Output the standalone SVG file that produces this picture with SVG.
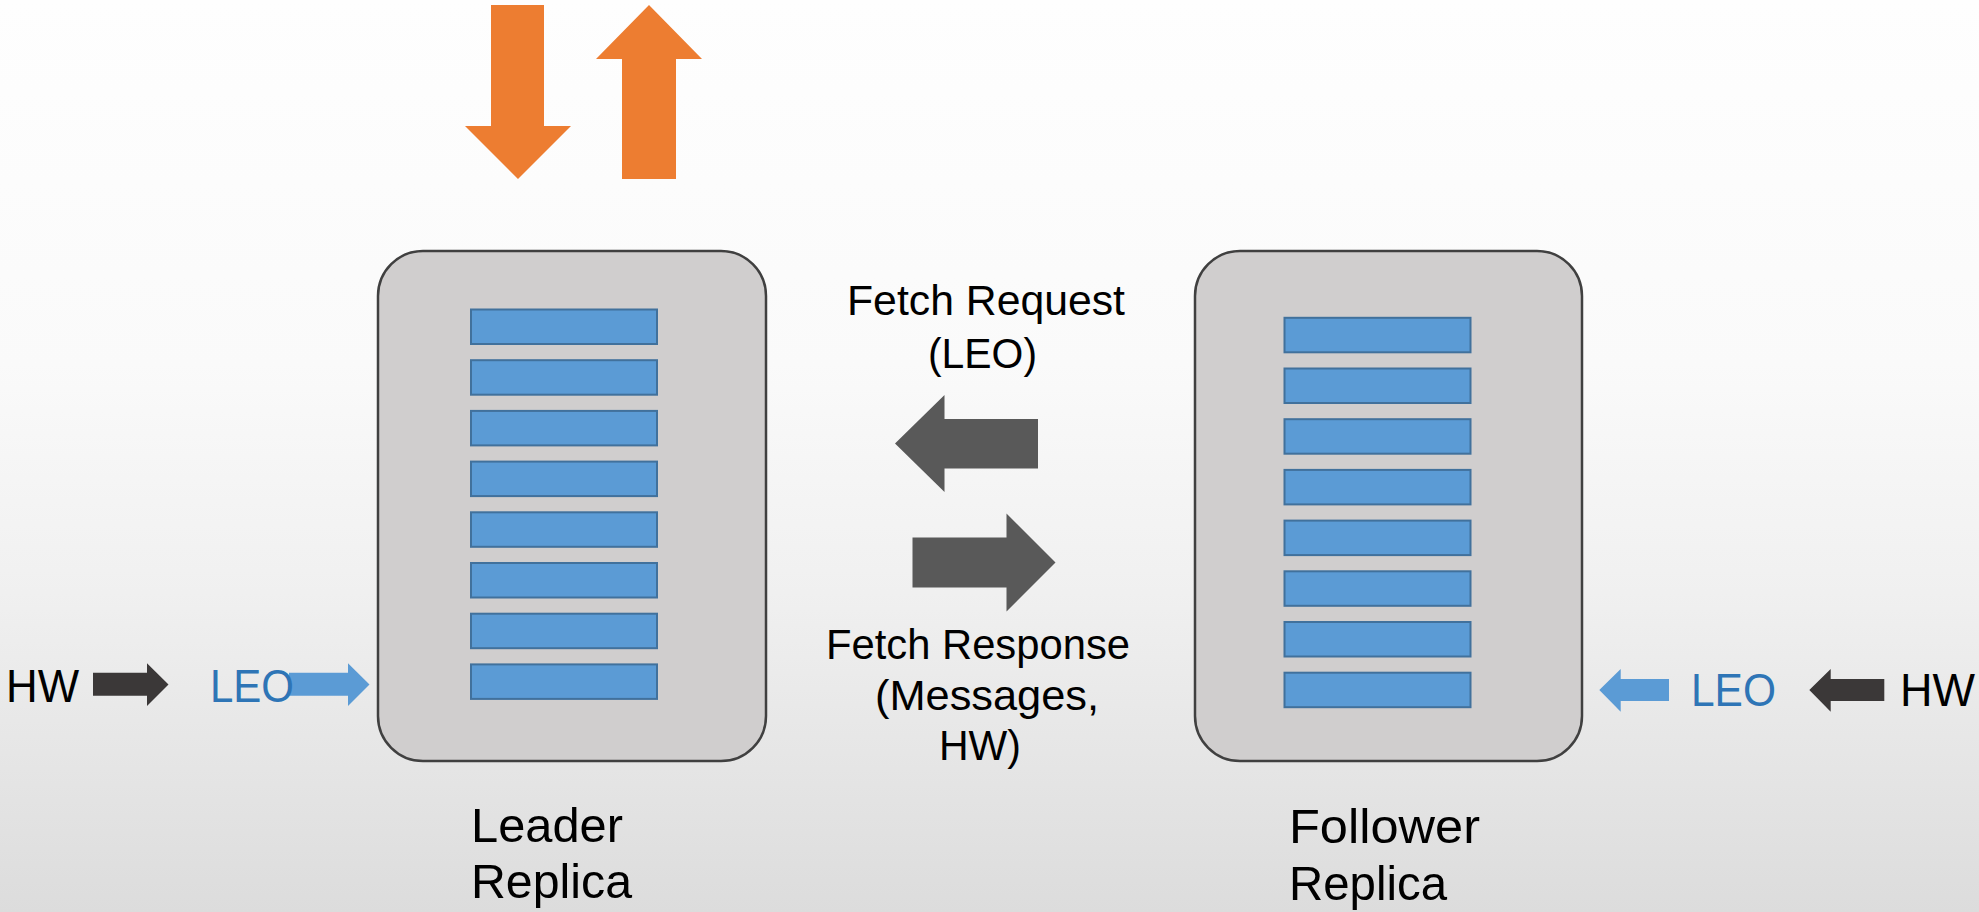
<svg xmlns="http://www.w3.org/2000/svg" width="1979" height="912" viewBox="0 0 1979 912">
  <defs>
    <linearGradient id="bg" x1="0" y1="0" x2="0" y2="1">
      <stop offset="0" stop-color="#FEFEFE"/>
      <stop offset="0.4" stop-color="#FAFAFA"/>
      <stop offset="0.65" stop-color="#F0F0F0"/>
      <stop offset="1" stop-color="#DCDCDC"/>
    </linearGradient>
    <style>
      .box { fill: #D0CECE; stroke: #404040; stroke-width: 2.5; }
      .bar { fill: #5B9BD5; stroke: #41719C; stroke-width: 2; }
      .orange { fill: #ED7D31; }
      .fetch { fill: #595959; }
      .hw { fill: #3B3838; }
      .leo { fill: #5B9BD5; }
      text { font-family: "Liberation Sans", Arial, sans-serif; fill: #000; }
      .msg { font-size: 42px; }
      .mark { font-size: 47px; }
      .name { font-size: 49px; }
      .blue { fill: #2E75B6; }
    </style>
  </defs>

  <rect x="0" y="0" width="1979" height="912" fill="url(#bg)"/>

  <!-- leader replica with its log segments -->
  <g id="leader">
    <rect class="box" x="378" y="251" width="388" height="510" rx="45" ry="45"/>
    <rect class="bar" x="471" y="309.5" width="186" height="34.5"/>
    <rect class="bar" x="471" y="360.2" width="186" height="34.5"/>
    <rect class="bar" x="471" y="410.9" width="186" height="34.5"/>
    <rect class="bar" x="471" y="461.6" width="186" height="34.5"/>
    <rect class="bar" x="471" y="512.3" width="186" height="34.5"/>
    <rect class="bar" x="471" y="563.0" width="186" height="34.5"/>
    <rect class="bar" x="471" y="613.7" width="186" height="34.5"/>
    <rect class="bar" x="471" y="664.4" width="186" height="34.5"/>
    <text class="name"><tspan x="471" y="842" textLength="152" lengthAdjust="spacingAndGlyphs">Leader</tspan><tspan x="471" y="898" textLength="161" lengthAdjust="spacingAndGlyphs">Replica</tspan></text>
  </g>

  <!-- follower replica with its log segments -->
  <g id="follower">
    <rect class="box" x="1195" y="251" width="387" height="510" rx="45" ry="45"/>
    <rect class="bar" x="1284.5" y="317.8" width="186" height="34.5"/>
    <rect class="bar" x="1284.5" y="368.5" width="186" height="34.5"/>
    <rect class="bar" x="1284.5" y="419.2" width="186" height="34.5"/>
    <rect class="bar" x="1284.5" y="469.9" width="186" height="34.5"/>
    <rect class="bar" x="1284.5" y="520.6" width="186" height="34.5"/>
    <rect class="bar" x="1284.5" y="571.3" width="186" height="34.5"/>
    <rect class="bar" x="1284.5" y="622.0" width="186" height="34.5"/>
    <rect class="bar" x="1284.5" y="672.7" width="186" height="34.5"/>
    <text class="name"><tspan x="1289" y="843" textLength="191" lengthAdjust="spacingAndGlyphs">Follower</tspan><tspan x="1289" y="900" textLength="158" lengthAdjust="spacingAndGlyphs">Replica</tspan></text>
  </g>

  <!-- block arrows -->
  <g id="connectors">
    <!-- produce / consume on the leader -->
    <polygon class="orange" points="491,5 544,5 544,126 571,126 518,179 465,126 491,126"/>
    <polygon class="orange" points="649,5 702,59 676,59 676,179 622,179 622,59 596,59"/>
    <!-- fetch request and response -->
    <polygon class="fetch" points="895,443.5 944.5,395 944.5,419 1038,419 1038,468.5 944.5,468.5 944.5,492"/>
    <polygon class="fetch" points="912.5,537.5 1006.5,537.5 1006.5,513.5 1055.5,562.5 1006.5,611.5 1006.5,587.5 912.5,587.5"/>
    <!-- leader-side markers -->
    <polygon class="hw" points="93,672.7 147,672.7 147,663.3 168.5,684.5 147,706 147,695.7 93,695.7"/>
    <polygon class="leo" points="289,672.7 348,672.7 348,663.3 369.5,684.5 348,706 348,695.7 289,695.7"/>
    <!-- follower-side markers -->
    <polygon class="leo" points="1599.3,690 1620.7,669 1620.7,679 1669,679 1669,701 1620.7,701 1620.7,711.7"/>
    <polygon class="hw" points="1809.3,690 1830.7,669 1830.7,679 1884.3,679 1884.3,701 1830.7,701 1830.7,711.7"/>
  </g>

  <!-- message labels -->
  <g id="labels">
    <text class="msg"><tspan x="847" y="315" textLength="278" lengthAdjust="spacingAndGlyphs">Fetch Request</tspan><tspan x="928" y="368" textLength="109" lengthAdjust="spacingAndGlyphs">(LEO)</tspan></text>
    <text class="msg"><tspan x="826" y="659" textLength="304" lengthAdjust="spacingAndGlyphs">Fetch Response</tspan><tspan x="875" y="710" textLength="224" lengthAdjust="spacingAndGlyphs">(Messages,</tspan><tspan x="939" y="760" textLength="82" lengthAdjust="spacingAndGlyphs">HW)</tspan></text>
    <text class="mark" x="6" y="702" textLength="73" lengthAdjust="spacingAndGlyphs">HW</text>
    <text class="mark blue" x="210" y="702" textLength="84" lengthAdjust="spacingAndGlyphs">LEO</text>
    <text class="mark blue" x="1691" y="706" textLength="85" lengthAdjust="spacingAndGlyphs">LEO</text>
    <text class="mark" x="1900" y="706" textLength="75" lengthAdjust="spacingAndGlyphs">HW</text>
  </g>
</svg>
